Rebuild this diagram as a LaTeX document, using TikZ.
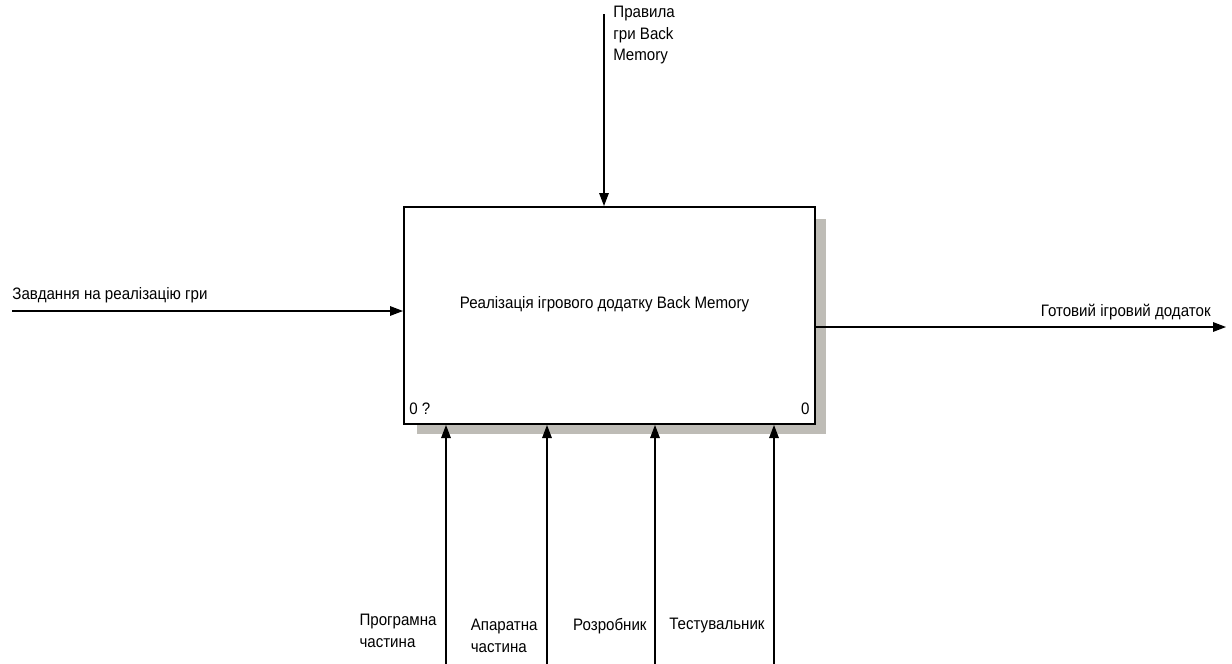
\documentclass[tikz,border=0pt]{standalone}
\usepackage{fontspec}
\setmainfont{Liberation Sans}[FakeStretch=0.91]
\usetikzlibrary{arrows.meta, positioning}
\definecolor{shadowgray}{RGB}{190, 188, 182}

\begin{document}
\begin{tikzpicture}[x=0.5pt, y=-0.5pt, font=\fontsize{8.3}{10.7}\selectfont,
    actbox/.style={draw, line width=1pt, fill=white, minimum width=205.5pt, minimum height=108.5pt, inner sep=0pt},
    flow/.style={line width=0.6pt, -{Triangle[length=6.5pt, width=4.8pt]}},
    lbl/.style={inner sep=0pt, align=left}]
  \useasboundingbox (0,0) rectangle (1232,664);

  % === activity box with shadow ===
  \fill[shadowgray] (417,219) rectangle (826,434);
  \node[actbox] (act) at (609.5,315.5) {};
  \node[lbl] (actname) at (604.5,304) {Реалізація ігрового додатку Back Memory};
  \node[lbl, anchor=west] (nodeno) at (409,409) {0 ?};
  \node[lbl, anchor=east] (cost) at (810,409) {0};

  % === control ===
  \coordinate (ctrl) at (604,14);
  \draw[flow] (ctrl) -- (ctrl |- act.north);
  \node[lbl, anchor=north west] (ctrllbl) at (613,6) {Правила\\гри Back\\Memory};

  % === input ===
  \coordinate (inp) at (12,311);
  \draw[flow] (inp) -- (inp -| act.west);
  \node[lbl, anchor=west] (inplbl) at (12,295) {Завдання на реалізацію гри};

  % === output ===
  \coordinate (outp) at (1226,327);
  \draw[flow] (outp -| act.east) -- (outp);
  \node[lbl, anchor=east] (outlbl) at (1211,312) {Готовий ігровий додаток};

  % === mechanisms ===
  \coordinate (mech1) at (446,664);
  \coordinate (mech2) at (547,664);
  \coordinate (mech3) at (655,664);
  \coordinate (mech4) at (774,664);
  \foreach \m in {mech1, mech2, mech3, mech4}
    \draw[flow] (\m) -- (\m |- act.south);
  \node[lbl, anchor=east] (mech1lbl) at (437,631) {Програмна\\частина};
  \node[lbl, anchor=east] (mech2lbl) at (538,636) {Апаратна\\частина};
  \node[lbl, anchor=east] (mech3lbl) at (647,626) {Розробник};
  \node[lbl, anchor=east] (mech4lbl) at (765,626) {Тестувальник};
\end{tikzpicture}
\end{document}
